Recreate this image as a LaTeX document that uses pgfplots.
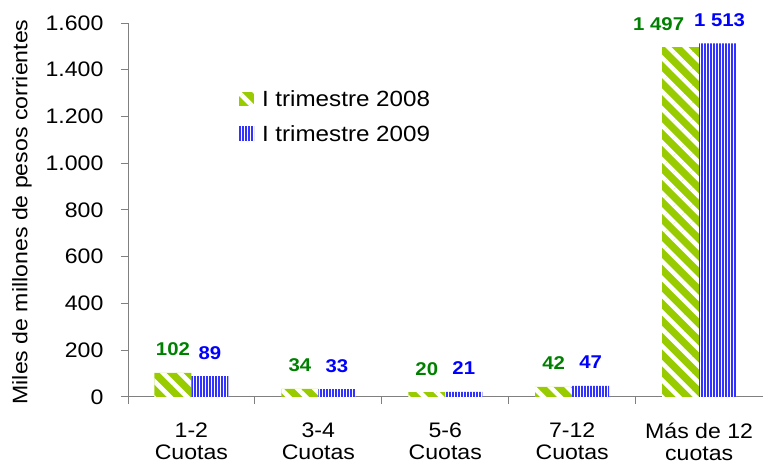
\documentclass[border=0pt]{standalone}
\usepackage{fontspec}
\setmainfont{Liberation Sans}[FakeStretch=1.1]
\usepackage{pgfplots}
\usepackage{pgfplotstable}
\pgfplotsset{compat=1.18}
\usetikzlibrary{patterns.meta}
\definecolor{barGreen}{RGB}{153,204,0}
\definecolor{barBlue}{RGB}{51,51,255}
\definecolor{lblGreen}{RGB}{0,128,0}
\definecolor{lblBlue}{RGB}{0,0,255}
\definecolor{axgray}{RGB}{128,128,128}
\tikzset{
  greenbar/.style={fill=barGreen, draw=none,
    postaction={pattern={Lines[angle=-45,distance=12pt,line width=4.5pt]}, pattern color=white}},
  bluebar/.style={fill=white, draw=none,
    postaction={pattern={Lines[angle=90,distance=3pt,line width=1.9pt]}, pattern color=barBlue}},
}
\pgfplotstableread{
x y dx
0 102 0
1 34 0
2 20 0
3 42 0
4 1497 -22
}\tableA
\pgfplotstableread{
x y dx
0 89 0
1 33 0
2 21 0
3 47 0
4 1513 2
}\tableB
\begin{document}
\begin{tikzpicture}
\begin{axis}[
  scale only axis, width=635pt, height=374pt,
  ybar=0pt, bar width=37pt,
  xmin=-0.5, xmax=4.5, ymin=0, ymax=1600,
  axis x line*=bottom, axis y line*=left,
  axis line style={axgray, line width=0.8pt},
  tick style={axgray, line width=0.8pt},
  tick align=outside, major tick length=7pt,
  xtick={-0.5,0.5,1.5,2.5,3.5},
  xticklabels={{1-2\\Cuotas},{3-4\\Cuotas},{5-6\\Cuotas},{7-12\\Cuotas},{Más de 12\\cuotas}},
  xticklabel style={xshift=63.5pt, yshift=-16pt, align=center, font=\fontsize{21}{22}\selectfont},
  ytick={0,200,...,1600},
  yticklabel style={xshift=-14pt, font=\fontsize{21}{22}\selectfont},
  /pgf/number format/assume math mode=true,
  /pgf/number format/.cd, 1000 sep={.}, /pgfplots/.cd,
  ylabel={Miles de millones de pesos corrientes},
  every axis y label/.style={at={(axis description cs:0,0.5)}, rotate=90, anchor=center, yshift=106pt, xshift=-2pt, font=\fontsize{21}{22}\selectfont},
  legend image code/.code={\path[#1] (0pt,-7pt) rectangle (15pt,7pt);},
  legend style={at={(rel axis cs:0.17,0.83)}, anchor=north west, draw=none, fill=none,
    font=\fontsize{22}{23}\selectfont, row sep=13pt, nodes={inner xsep=8pt}},
  legend cell align=left,
  visualization depends on={\thisrow{dx} \as \dx},
  nodes near coords={\pgfmathprintnumber[1000 sep={\ }]{\pgfplotspointmeta}},
  every node near coord/.append style={anchor=base, yshift=17pt, xshift=\dx, font=\bfseries\fontsize{18.5}{20}\selectfont},
  clip=false,
]
\addplot[greenbar, every node near coord/.append style={text=lblGreen}] table[x=x, y=y] {\tableA};
\addplot[bluebar, every node near coord/.append style={text=lblBlue}] table[x=x, y=y] {\tableB};
\legend{I trimestre 2008, I trimestre 2009}
\end{axis}
\path (-128pt,-65pt) rectangle (635pt,397pt);
\end{tikzpicture}
\end{document}
